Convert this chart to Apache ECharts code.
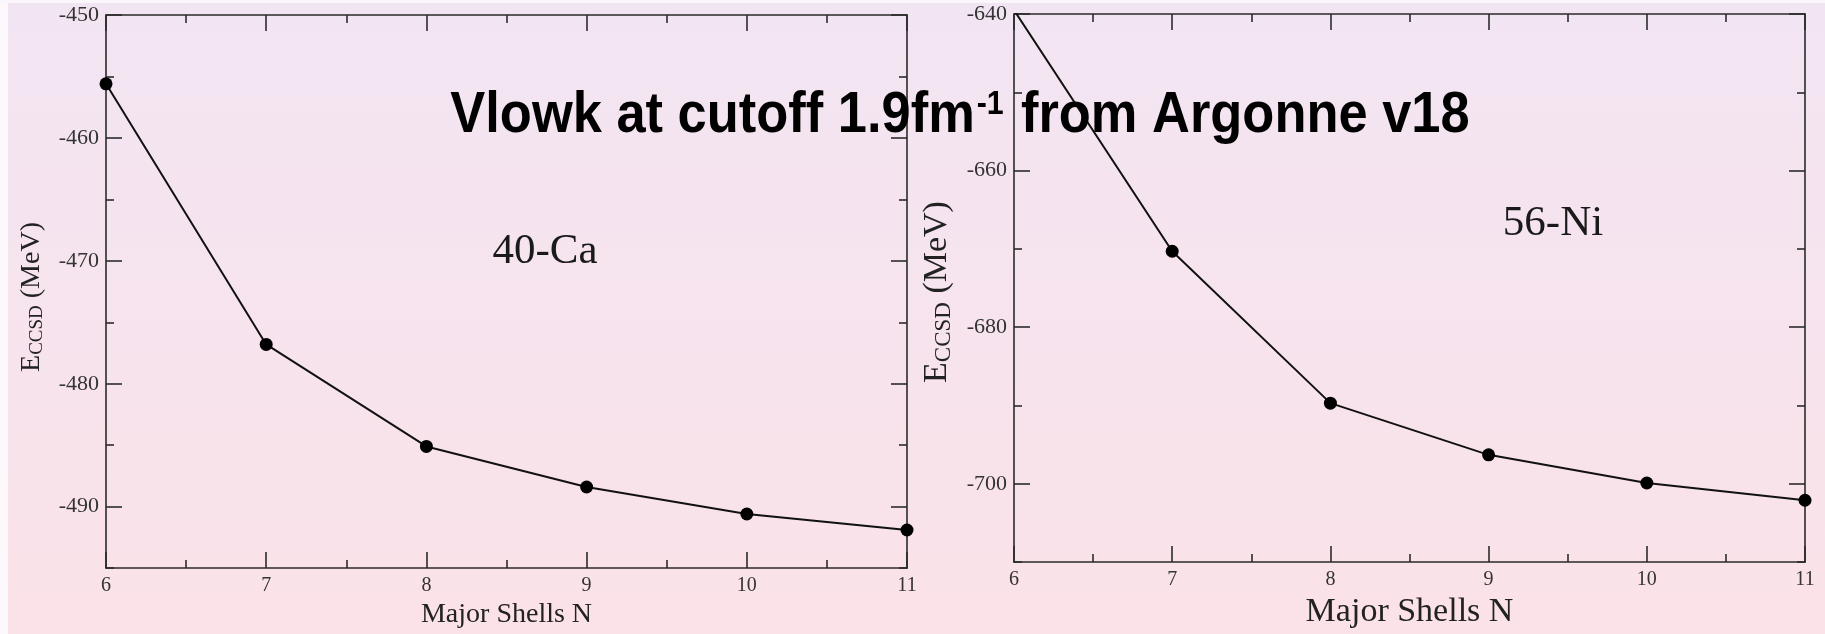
<!DOCTYPE html>
<html>
<head>
<meta charset="utf-8">
<script src="https://cdn.jsdelivr.net/npm/echarts@6/dist/echarts.min.js"></script>
<style>
  html, body { margin: 0; padding: 0; }
  #chart { width: 1825px; height: 634px; }
</style>
</head>
<body>
<div id="chart"></div>
<script>
// CCSD ground-state energies versus number of major oscillator shells
const shells = [6, 7, 8, 9, 10, 11];
const ca40Energy = [-455.6, -476.8, -485.1, -488.4, -490.6, -491.9];
const ni56Energy = [-639.5, -670.3, -689.7, -696.3, -699.9, -702.1];

// tick positions
const shellTicks = [6, 7, 8, 9, 10, 11];
const ca40Ticks = [-490, -480, -470, -460, -450];
const ca40MinorTicks = [-495, -485, -475, -465, -455];
const ni56Ticks = [-700, -680, -660, -640];
const ni56MinorTicks = [-710, -690, -670, -650];

const AXIS_COLOR = '#2b2b2b';
const SERIF = 'Liberation Serif';

function xAxisDef(gridIndex, position, showLabel, name, nameSize, nameGap) {
  return {
    type: 'value', gridIndex, position,
    min: shellTicks[0], max: shellTicks[shellTicks.length - 1], interval: 1,
    axisLine: { show: true, onZero: false, lineStyle: { color: AXIS_COLOR, width: 1.6 } },
    axisTick: { show: true, inside: true, length: 16, lineStyle: { color: AXIS_COLOR, width: 1.6 } },
    minorTick: { show: true, splitNumber: 2, length: 8, lineStyle: { color: AXIS_COLOR, width: 1.6 } },
    axisLabel: { show: showLabel, margin: 8, fontFamily: SERIF, fontSize: 20, color: '#333' },
    splitLine: { show: false },
    minorSplitLine: { show: false },
    name: name || '', nameLocation: 'middle', nameGap: nameGap || 0,
    nameTextStyle: { fontFamily: SERIF, fontSize: nameSize || 12, color: '#222' }
  };
}

function yAxisDef(gridIndex, position, min, max, ticks, tickLen, showLabel, showLine) {
  return {
    type: 'value', gridIndex, position, min, max,
    axisLine: { show: showLine, onZero: false, lineStyle: { color: AXIS_COLOR, width: 1.6 } },
    axisTick: { show: true, inside: true, length: tickLen, customValues: ticks,
                lineStyle: { color: AXIS_COLOR, width: 1.6 } },
    axisLabel: { show: showLabel, customValues: ticks, margin: 7,
                 fontFamily: SERIF, fontSize: 22, color: '#333' },
    splitLine: { show: false }
  };
}

function pairs(xs, ys) { return xs.map((x, i) => [x, ys[i]]); }

const lineSeries = (xi, yi, values) => ({
  type: 'line', xAxisIndex: xi, yAxisIndex: yi,
  data: pairs(shells, values),
  symbol: 'circle', symbolSize: 13, showSymbol: true, clip: true,
  lineStyle: { color: '#111', width: 2 },
  itemStyle: { color: '#000' },
  animation: false, z: 5
});

const yTitle = (size, subSize) => ({
  text: '{e|E}{s|CCSD}{e| (MeV)}',
  rich: {
    e: { fontFamily: SERIF, fontSize: size, fill: '#222' },
    s: { fontFamily: SERIF, fontSize: subSize, fill: '#222', padding: [Math.round(subSize * 0.6), 0, 0, 0] }
  },
  align: 'center', verticalAlign: 'middle'
});

const chart = echarts.init(document.getElementById('chart'), null, { renderer: 'canvas' });

chart.setOption({
  animation: false,
  grid: [
    { left: 106, top: 15, width: 801, height: 558 },
    { left: 1014, top: 14, width: 791, height: 554 }
  ],
  xAxis: [
    xAxisDef(0, 'bottom', true, 'Major Shells N', 28, 24),
    xAxisDef(0, 'top', false),
    xAxisDef(1, 'bottom', true, 'Major Shells N', 34, 22),
    xAxisDef(1, 'top', false)
  ],
  yAxis: [
    yAxisDef(0, 'left', -495, -450, ca40Ticks, 16, true, true),
    yAxisDef(0, 'left', -495, -450, ca40MinorTicks, 8, false, false),
    yAxisDef(0, 'right', -495, -450, ca40Ticks, 16, false, true),
    yAxisDef(0, 'right', -495, -450, ca40MinorTicks, 8, false, false),
    yAxisDef(1, 'left', -710, -640, ni56Ticks, 16, true, true),
    yAxisDef(1, 'left', -710, -640, ni56MinorTicks, 8, false, false),
    yAxisDef(1, 'right', -710, -640, ni56Ticks, 16, false, true),
    yAxisDef(1, 'right', -710, -640, ni56MinorTicks, 8, false, false)
  ],
  series: [
    lineSeries(0, 0, ca40Energy),
    lineSeries(2, 4, ni56Energy)
  ],
  graphic: [
    {
      type: 'rect', z: -100, silent: true,
      shape: { x: 0, y: 0, width: 1825, height: 634 },
      style: {
        fill: {
          type: 'linear', x: 0, y: 0, x2: 0, y2: 1,
          colorStops: [
            { offset: 0, color: '#f2e5f3' },
            { offset: 1, color: '#fbe2e8' }
          ]
        }
      }
    },
    { type: 'rect', z: -99, silent: true, shape: { x: 0, y: 0, width: 8, height: 634 }, style: { fill: '#fdf8fb' } },
    { type: 'rect', z: -99, silent: true, shape: { x: 0, y: 0, width: 1825, height: 3 }, style: { fill: '#fbf6fb' } },
    {
      type: 'text', z: 20, x: 960, y: 116, scaleX: 0.92,
      style: {
        text: '{t|Vlowk at cutoff 1.9fm}{p|-1}{t| from Argonne v18}',
        rich: {
          t: { fontFamily: 'Liberation Sans', fontWeight: 'bold', fontSize: 57, fill: '#000' },
          p: { fontFamily: 'Liberation Sans', fontWeight: 'bold', fontSize: 33, fill: '#000', padding: [0, 3, 22, 2] }
        },
        align: 'center', verticalAlign: 'middle'
      }
    },
    { type: 'text', z: 10, x: 32, y: 297, rotation: Math.PI / 2, style: yTitle(28, 19) },
    { type: 'text', z: 10, x: 937, y: 292, rotation: Math.PI / 2, style: yTitle(34, 23) },
    {
      type: 'text', z: 10, x: 545, y: 252,
      style: { text: '40-Ca', fontFamily: SERIF, fontSize: 43, fill: '#1a1a1a', align: 'center', verticalAlign: 'middle' }
    },
    {
      type: 'text', z: 10, x: 1553, y: 224,
      style: { text: '56-Ni', fontFamily: SERIF, fontSize: 43, fill: '#1a1a1a', align: 'center', verticalAlign: 'middle' }
    }
  ]
});
</script>
</body>
</html>
